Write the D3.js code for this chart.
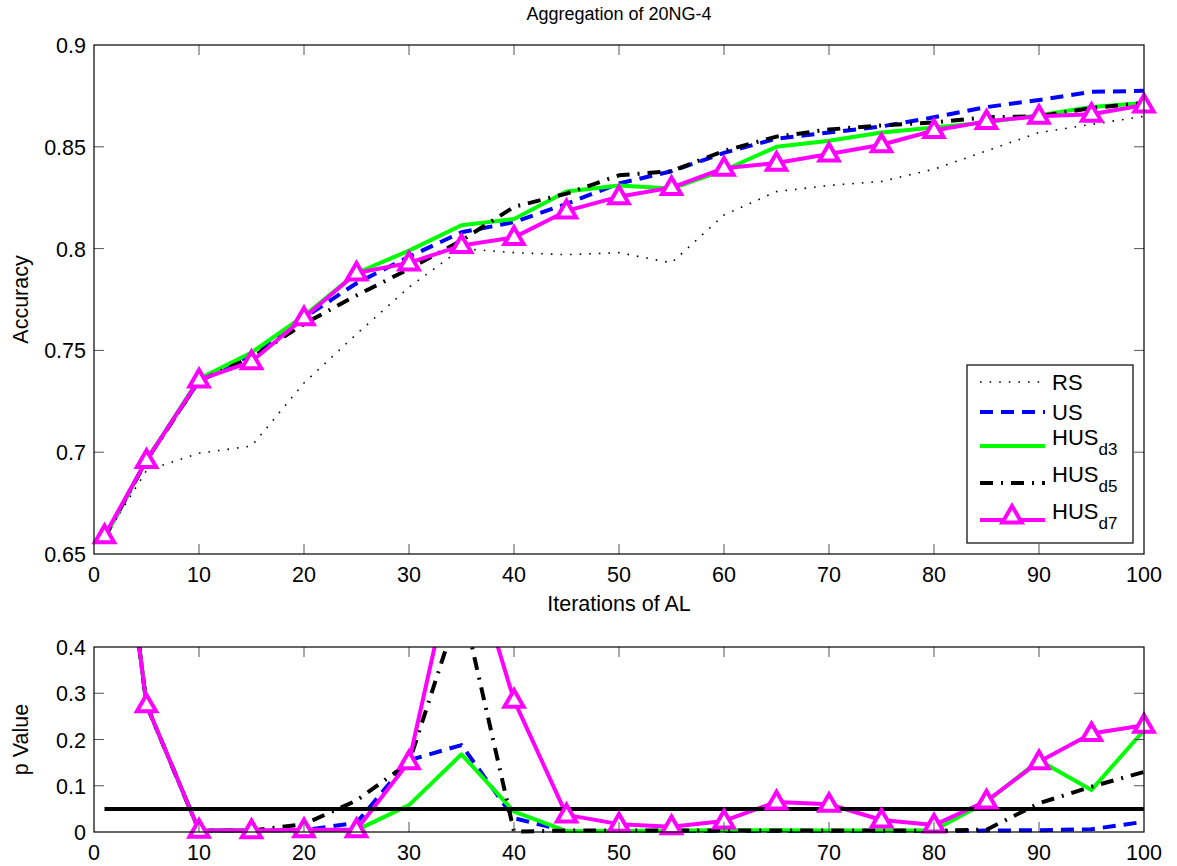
<!DOCTYPE html>
<html>
<head>
<meta charset="utf-8">
<script src="https://cdn.jsdelivr.net/npm/d3@7"></script>
<style>
  html, body { margin: 0; padding: 0; background: #fff; }
  svg { display: block; font-family: "Liberation Sans", Arial, Helvetica, sans-serif; }
</style>
</head>
<body>
<svg id="chart" width="1177" height="866"></svg>
<script>
// Iterations of active learning at which accuracy was recorded
const iterations = [1, 5, 10, 15, 20, 25, 30, 35, 40, 45, 50, 55, 60, 65, 70, 75, 80, 85, 90, 95, 100];

// Accuracy per method
const accRS    = [0.658, 0.691, 0.6995, 0.703, 0.734, 0.758, 0.781, 0.800, 0.798, 0.797, 0.798, 0.793, 0.8165, 0.828, 0.831, 0.833, 0.839, 0.848, 0.857, 0.861, 0.865];
const accUS    = [0.658, 0.696, 0.735, 0.748, 0.766, 0.783, 0.796, 0.808, 0.813, 0.822, 0.832, 0.838, 0.847, 0.854, 0.857, 0.860, 0.8645, 0.8695, 0.873, 0.877, 0.8775];
const accHUSd3 = [0.658, 0.696, 0.736, 0.749, 0.767, 0.788, 0.799, 0.8115, 0.8145, 0.828, 0.831, 0.8295, 0.8385, 0.850, 0.853, 0.857, 0.8595, 0.862, 0.8655, 0.8695, 0.8715];
const accHUSd5 = [0.658, 0.696, 0.735, 0.7465, 0.763, 0.777, 0.790, 0.804, 0.8205, 0.827, 0.836, 0.838, 0.848, 0.855, 0.8585, 0.8605, 0.862, 0.8645, 0.865, 0.869, 0.8715];
const accHUSd7 = [0.659, 0.696, 0.7355, 0.7445, 0.766, 0.788, 0.793, 0.8015, 0.8055, 0.8185, 0.8255, 0.830, 0.8395, 0.842, 0.8465, 0.851, 0.858, 0.8625, 0.865, 0.866, 0.8705];

// p values of each method against the baseline
const pUS    = [1.0, 0.275, 0.003, 0.003, 0.004, 0.02, 0.155, 0.188, 0.03, 0.002, 0.002, 0.002, 0.002, 0.002, 0.002, 0.002, 0.002, 0.003, 0.004, 0.006, 0.022];
const pHUSd3 = [1.0, 0.275, 0.003, 0.003, 0.003, 0.004, 0.058, 0.168, 0.044, 0.002, 0.002, 0.003, 0.004, 0.004, 0.003, 0.003, 0.004, 0.065, 0.155, 0.091, 0.22];
const pHUSd5 = [1.0, 0.275, 0.003, 0.003, 0.017, 0.068, 0.15, 0.50, 0.001, 0.003, 0.003, 0.003, 0.003, 0.003, 0.003, 0.003, 0.003, 0.005, 0.062, 0.098, 0.13];
const pHUSd7 = [1.0, 0.275, 0.004, 0.003, 0.005, 0.005, 0.152, 0.66, 0.285, 0.037, 0.017, 0.0115, 0.024, 0.065, 0.06, 0.026, 0.015, 0.067, 0.152, 0.213, 0.231];
const significance = 0.05;

// Tick labels
const xTicks = [0, 10, 20, 30, 40, 50, 60, 70, 80, 90, 100];
const accTicks = [0.65, 0.7, 0.75, 0.8, 0.85, 0.9];
const pTicks = [0, 0.1, 0.2, 0.3, 0.4];

const svg = d3.select("#chart");

const left = 94, right = 1144;
const top1 = 45, bottom1 = 554;
const top2 = 647, bottom2 = 832;

const x = d3.scaleLinear().domain([0, 100]).range([left, right]);
const yAcc = d3.scaleLinear().domain([0.65, 0.9]).range([bottom1, top1]);
const yP = d3.scaleLinear().domain([0, 0.4]).range([bottom2, top2]);

const styles = {
  RS:    { color: "#000000", width: 1.6, dash: "1.6,8" },
  US:    { color: "#0000ff", width: 4, dash: "13,8" },
  HUSd3: { color: "#00ff00", width: 4, dash: null },
  HUSd5: { color: "#000000", width: 4, dash: "13,8,2,8" },
  HUSd7: { color: "#ff00ff", width: 4, dash: null }
};

const tickColor = "#555";
const fontSize = 21.5;

function drawFrame(g, yScale, yTickVals, top, bottom) {
  // inward ticks on all four sides
  xTicks.forEach(t => {
    if (t === 0 || t === 100) return;
    g.append("line").attr("x1", x(t)).attr("x2", x(t)).attr("y1", bottom).attr("y2", bottom - 10)
      .attr("stroke", tickColor).attr("stroke-width", 1);
    g.append("line").attr("x1", x(t)).attr("x2", x(t)).attr("y1", top).attr("y2", top + 10)
      .attr("stroke", tickColor).attr("stroke-width", 1);
  });
  yTickVals.forEach(t => {
    const yy = yScale(t);
    if (Math.abs(yy - top) < 1 || Math.abs(yy - bottom) < 1) return;
    g.append("line").attr("x1", left).attr("x2", left + 10).attr("y1", yy).attr("y2", yy)
      .attr("stroke", tickColor).attr("stroke-width", 1);
    g.append("line").attr("x1", right).attr("x2", right - 10).attr("y1", yy).attr("y2", yy)
      .attr("stroke", tickColor).attr("stroke-width", 1);
  });
  g.append("rect").attr("x", left).attr("y", top).attr("width", right - left).attr("height", bottom - top)
    .attr("fill", "none").attr("stroke", "#000").attr("stroke-width", 1.2);
  // tick labels
  g.selectAll(".ylab").data(yTickVals).enter().append("text")
    .attr("x", left - 8).attr("y", d => yScale(d) + 8)
    .attr("text-anchor", "end").attr("font-size", fontSize).text(d => String(d));
  g.selectAll(".xlab").data(xTicks).enter().append("text")
    .attr("x", d => x(d)).attr("y", bottom + 28)
    .attr("text-anchor", "middle").attr("font-size", fontSize).text(d => d);
}

// ---------- Top panel: accuracy ----------
const g1 = svg.append("g");
svg.append("clipPath").attr("id", "clipTop").append("rect")
  .attr("x", left - 15).attr("y", top1 - 15).attr("width", right - left + 30).attr("height", bottom1 - top1 + 30);

const accSeries = [
  { key: "RS", vals: accRS },
  { key: "US", vals: accUS },
  { key: "HUSd3", vals: accHUSd3 },
  { key: "HUSd5", vals: accHUSd5 },
  { key: "HUSd7", vals: accHUSd7 }
];
const lineAcc = d3.line().x((d, i) => x(iterations[i])).y(d => yAcc(d));
const plot1 = g1.append("g").attr("clip-path", "url(#clipTop)");
accSeries.forEach(s => {
  const st = styles[s.key];
  plot1.append("path").datum(s.vals).attr("d", lineAcc)
    .attr("fill", "none").attr("stroke", st.color).attr("stroke-width", st.width)
    .attr("stroke-dasharray", st.dash).attr("stroke-linejoin", "round");
});
const tri = d3.symbol().type(d3.symbolTriangle).size(160);
plot1.selectAll(".m1").data(accHUSd7).enter().append("path")
  .attr("d", tri).attr("transform", (d, i) => `translate(${x(iterations[i])},${yAcc(d) + 1})`)
  .attr("fill", "#fff").attr("stroke", styles.HUSd7.color).attr("stroke-width", 4).attr("stroke-linejoin", "miter");

drawFrame(g1, yAcc, accTicks, top1, bottom1);

svg.append("text").attr("x", 619).attr("y", 20).attr("text-anchor", "middle")
  .attr("font-size", 18).text("Aggregation of 20NG-4");
svg.append("text").attr("x", 619).attr("y", 611).attr("text-anchor", "middle")
  .attr("font-size", fontSize).text("Iterations of AL");
svg.append("text").attr("transform", `translate(28,${(top1 + bottom1) / 2}) rotate(-90)`)
  .attr("text-anchor", "middle").attr("font-size", fontSize).text("Accuracy");

// Legend
const lg = svg.append("g");
const lgX = 967, lgY = 365, lgW = 166, lgH = 178;
lg.append("rect").attr("x", lgX).attr("y", lgY).attr("width", lgW).attr("height", lgH)
  .attr("fill", "#fff").attr("stroke", "#000").attr("stroke-width", 1.2);
const legendItems = [
  { key: "RS", label: "RS", sub: null, y: 382 },
  { key: "US", label: "US", sub: null, y: 412 },
  { key: "HUSd3", label: "HUS", sub: "d3", y: 446 },
  { key: "HUSd5", label: "HUS", sub: "d5", y: 483 },
  { key: "HUSd7", label: "HUS", sub: "d7", y: 520 }
];
legendItems.forEach(it => {
  const st = styles[it.key];
  lg.append("line").attr("x1", 980).attr("x2", 1045).attr("y1", it.y).attr("y2", it.y)
    .attr("stroke", st.color).attr("stroke-width", st.width).attr("stroke-dasharray", st.dash);
  if (it.key === "HUSd7") {
    lg.append("path").attr("d", tri).attr("transform", `translate(1012,${it.y - 3})`)
      .attr("fill", "#fff").attr("stroke", st.color).attr("stroke-width", 4);
  }
  const t = lg.append("text").attr("x", 1052).attr("y", it.sub ? it.y - 1 : it.y + 8).attr("font-size", 22);
  t.append("tspan").text(it.label);
  if (it.sub) t.append("tspan").attr("dy", 10).attr("font-size", 17).text(it.sub);
});

// ---------- Bottom panel: p values ----------
const g2 = svg.append("g");
svg.append("clipPath").attr("id", "clipBottom").append("rect")
  .attr("x", left - 15).attr("y", top2).attr("width", right - left + 30).attr("height", bottom2 - top2 + 15);
const plot2 = g2.append("g").attr("clip-path", "url(#clipBottom)");
const lineP = d3.line().x((d, i) => x(iterations[i])).y(d => yP(d));
const pSeries = [
  { key: "US", vals: pUS },
  { key: "HUSd3", vals: pHUSd3 },
  { key: "HUSd5", vals: pHUSd5 },
  { key: "HUSd7", vals: pHUSd7 }
];
pSeries.forEach(s => {
  const st = styles[s.key];
  plot2.append("path").datum(s.vals).attr("d", lineP)
    .attr("fill", "none").attr("stroke", st.color).attr("stroke-width", st.width)
    .attr("stroke-dasharray", st.dash).attr("stroke-linejoin", "round");
});
// significance threshold
plot2.append("line").attr("x1", x(iterations[0])).attr("x2", x(iterations[iterations.length - 1]))
  .attr("y1", yP(significance)).attr("y2", yP(significance))
  .attr("stroke", "#000").attr("stroke-width", 4);
plot2.selectAll(".m2").data(pHUSd7).enter().append("path")
  .attr("d", tri).attr("transform", (d, i) => `translate(${x(iterations[i])},${yP(d) + 1})`)
  .attr("fill", "#fff").attr("stroke", styles.HUSd7.color).attr("stroke-width", 4);

drawFrame(g2, yP, pTicks, top2, bottom2);
svg.append("text").attr("transform", `translate(28,${(top2 + bottom2) / 2}) rotate(-90)`)
  .attr("text-anchor", "middle").attr("font-size", fontSize).text("p Value");
</script>
</body>
</html>
